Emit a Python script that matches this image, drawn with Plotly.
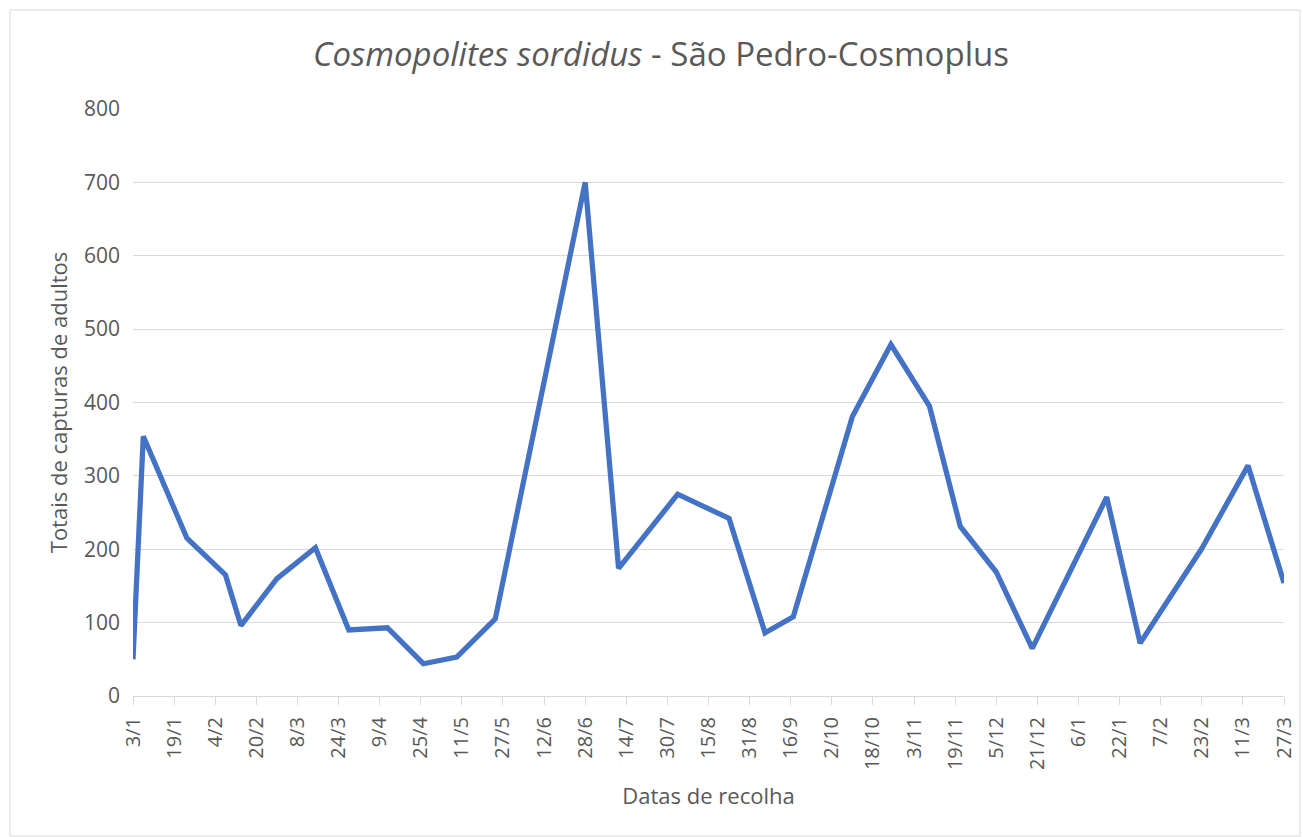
import plotly.graph_objects as go

dates = ["2018-01-03", "2018-01-07", "2018-01-24", "2018-02-08", "2018-02-14", "2018-02-28",
         "2018-03-15", "2018-03-28", "2018-04-12", "2018-04-26", "2018-05-09", "2018-05-24",
         "2018-06-28", "2018-07-11", "2018-08-03", "2018-08-23", "2018-09-06", "2018-09-17",
         "2018-10-10", "2018-10-25", "2018-11-09", "2018-11-21", "2018-12-05", "2018-12-19",
         "2019-01-17", "2019-01-30", "2019-02-23", "2019-03-13", "2019-03-27"]
captures = [50, 354, 215, 165, 96, 160, 202, 90, 93, 44, 53, 105, 700, 174, 275, 242, 86, 108,
            381, 479, 395, 231, 169, 65, 271, 72, 201, 314, 154]

title_text = "<i>Cosmopolites sordidus</i> - São Pedro-Cosmoplus"
x_title = "Datas de recolha"
y_title = "Totais de capturas de adultos"

grey_text = "#595959"
font_family = "Open Sans"

fig = go.Figure()
fig.add_trace(go.Scatter(x=dates, y=captures, mode="lines",
                         line=dict(color="#4472C4", width=5.25), showlegend=False))

W, H = 1303, 837
ml, mr, mt, mb = 133, 19, 109, 141
pw, ph = W - ml - mr, H - mt - mb

def px(x):
    return (x - ml) / pw

def py(y):
    return (H - mb - y) / ph

fig.update_layout(
    width=W, height=H,
    margin=dict(l=ml, r=mr, t=mt, b=mb, autoexpand=False),
    paper_bgcolor="white", plot_bgcolor="white",
    font=dict(family=font_family, color=grey_text, size=21),
    title=dict(text=title_text, x=661 / W, xref="container", xanchor="center",
               y=1 - 54 / H, yanchor="middle", yref="container",
               font=dict(size=33, color=grey_text, family=font_family)),
    xaxis=dict(type="date", range=["2018-01-03", "2019-03-27"], automargin=False,
               tick0="2018-01-03", dtick=16 * 86400000, tickformat="%-d/%-m",
               tickangle=-90, ticks="outside", ticklen=8, tickcolor="#D9D9D9",
               showgrid=False, showline=True, linecolor="#D9D9D9", linewidth=1,
               zeroline=False, ticklabelstandoff=4,
               tickfont=dict(size=20, color=grey_text),
               title=dict(text=x_title, font=dict(size=22, color=grey_text), standoff=19)),
    yaxis=dict(range=[0, 800], dtick=100, showgrid=True, gridcolor="#D9D9D9", gridwidth=1,
               automargin=False,
               zeroline=False, showline=False, ticks="", ticklabelstandoff=12,
               tickfont=dict(size=21, color=grey_text),
               title=dict(text=y_title, font=dict(size=22, color=grey_text), standoff=10)),
)

fig.add_shape(type="rect", xref="paper", yref="paper",
              x0=px(10), x1=px(1300), y0=py(836), y1=py(10),
              line=dict(color="#D9D9D9", width=1), fillcolor="rgba(0,0,0,0)", layer="below")

fig.write_html("out.html", config={"displayModeBar": False},
               post_script="document.body.style.margin='0';document.body.style.overflow='hidden';")
